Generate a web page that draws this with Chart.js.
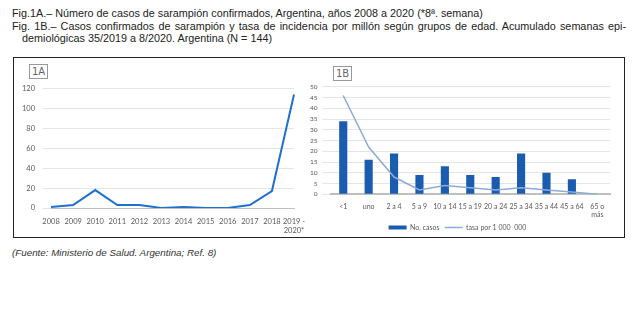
<!DOCTYPE html>
<html><head><meta charset="utf-8">
<script src="https://cdn.jsdelivr.net/npm/chart.js@4"></script>
<style>
body{margin:0;background:#fff;width:642px;height:332px;position:relative;overflow:hidden;font-family:"Liberation Sans",Arial,sans-serif;}
.t{position:absolute;font-size:10.8px;color:#222;white-space:nowrap;line-height:12px;}
#box{position:absolute;left:13px;top:57px;width:612px;height:181px;border:1.5px solid #222;box-sizing:border-box;}
.lab{position:absolute;border:1px solid #999;font-family:"DejaVu Sans",sans-serif;font-size:10px;color:#666;padding:1px 2px;line-height:11px;}
canvas{position:absolute;}
#foot{position:absolute;left:12px;top:247px;font-size:9.8px;font-style:italic;color:#333;}
</style></head><body>
<div class="t" style="left:12px;top:7px;">Fig.1A.– Número de casos de sarampión confirmados, Argentina, años 2008 a 2020 (*8ª. semana)</div>
<div class="t" style="left:12px;top:20px;width:614px;text-align:justify;text-align-last:justify;white-space:normal;">Fig. 1B.– Casos confirmados de sarampión y tasa de incidencia por millón según grupos de edad. Acumulado semanas epi-</div>
<div class="t" style="left:22px;top:32px;">demiológicas 35/2019 a 8/2020. Argentina (N = 144)</div>
<div id="box"></div>
<div class="lab" style="left:29px;top:64px;">1A</div>
<div class="lab" style="left:333px;top:66px;">1B</div>
<div style="position:absolute;left:14px;top:76px;width:296px;height:160px;"><canvas id="a"></canvas></div>
<div style="position:absolute;left:305px;top:78px;width:307px;height:163px;"><canvas id="b"></canvas></div>
<div id="foot">(Fuente: Ministerio de Salud. Argentina; Ref. 8)</div>
<script>
const yearsA = ["2008","2009","2010","2011","2012","2013","2014","2015","2016","2017","2018",["2019 -","2020*"]];
const casesA = [1,3,18,3,3,0,1,0,0,3,17,114];
const ageGroups = ["<1","uno","2 a 4","5 a 9","10 a 14","15 a 19","20 a 24","25 a 34","35 a 44","45 a 64",["65 o","más"]];
const casesB = [34,16,19,9,13,9,8,19,10,7,0];
const rateB = [46,22,8,2,4,3,2,3,2,1,0];

Chart.defaults.font.family = "Lato, 'Open Sans', sans-serif";
Chart.defaults.color = "#595959";
Chart.defaults.animation = false;

new Chart(document.getElementById('a'), {
  type:'line',
  data:{labels:yearsA,datasets:[{data:casesA,borderColor:'#1f6fd0',borderWidth:2,pointRadius:0,tension:0}]},
  options:{responsive:true,maintainAspectRatio:false,
    plugins:{legend:{display:false},tooltip:{enabled:false}},
    layout:{padding:{left:0,right:16,top:2,bottom:0}},
    scales:{
      x:{grid:{display:false},border:{color:'#bfbfbf'},ticks:{font:{size:7.5},maxRotation:0,autoSkip:false,padding:1}},
      y:{min:0,max:120,grid:{color:'#e4e4e4'},border:{display:false},ticks:{stepSize:20,autoSkip:false,font:{size:7.5},padding:8}}
    }}
});

new Chart(document.getElementById('b'), {
  data:{labels:ageGroups,datasets:[
    {type:'bar',label:'No. casos',data:casesB,backgroundColor:'#1a5cb0',barPercentage:0.32,categoryPercentage:1,order:2},
    {type:'line',label:'tasa por 1 000  000',data:rateB,borderColor:'#8eaadb',borderWidth:1.5,pointRadius:0,tension:0,order:1}
  ]},
  options:{responsive:true,maintainAspectRatio:false,
    plugins:{legend:{position:'bottom',labels:{font:{size:7},usePointStyle:true,pointStyleWidth:18,boxHeight:4,padding:5,
      generateLabels:(c)=>c.data.datasets.map((d,i)=>({text:d.label,pointStyle:i==0?'rect':'line',fillStyle:i==0?'#1a5cb0':'#8eaadb',strokeStyle:i==0?'#1a5cb0':'#8eaadb',lineWidth:i==0?0:1.5,datasetIndex:i,fontColor:'#595959'}))}},tooltip:{enabled:false}},
    layout:{padding:{left:0,right:2,top:0,bottom:0}},
    scales:{
      x:{grid:{display:false},border:{color:'#bfbfbf',width:2},ticks:{font:{size:7},maxRotation:0,autoSkip:false,padding:0}},
      y:{min:0,max:50,grid:{color:'#e4e4e4'},border:{display:false},ticks:{stepSize:5,autoSkip:false,font:{size:6.5},padding:5}}
    }}
});
</script>
</body></html>
